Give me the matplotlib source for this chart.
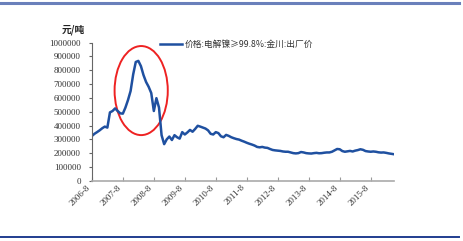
import matplotlib
matplotlib.use("Agg")
import matplotlib.pyplot as plt
from matplotlib.patches import Ellipse
from matplotlib.lines import Line2D

# monthly price, 2006-8 .. 2016-5 (元/吨)
prices = [
    324000, 340000, 352000, 365000, 380000, 392000, 385000, 495000, 505000, 524000,
    505000, 488000, 486000, 530000, 585000, 650000, 770000, 860000, 868000, 830000,
    765000, 715000, 680000, 635000, 505000, 598000, 530000, 330000, 265000, 300000,
    320000, 295000, 330000, 315000, 305000, 352000, 335000, 350000, 368000, 355000,
    375000, 398000, 392000, 385000, 378000, 365000, 340000, 335000, 352000, 345000,
    322000, 315000, 332000, 325000, 315000, 308000, 302000, 298000, 290000, 283000,
    275000, 268000, 262000, 255000, 245000, 242000, 245000, 240000, 238000, 230000,
    223000, 220000, 218000, 216000, 212000, 210000, 210000, 205000, 200000, 198000,
    200000, 208000, 205000, 200000, 198000, 197000, 200000, 202000, 199000, 200000,
    203000, 205000, 205000, 210000, 220000, 230000, 228000, 215000, 210000, 213000,
    216000, 212000, 218000, 222000, 228000, 224000, 215000, 212000, 210000, 212000,
    210000, 206000, 204000, 205000, 202000, 198000, 195000, 192000,
]
months = list(range(len(prices)))
tick_labels = ["2006-8", "2007-8", "2008-8", "2009-8", "2010-8",
               "2011-8", "2012-8", "2013-8", "2014-8", "2015-8"]
y_ticks = list(range(0, 1000001, 100000))
series_name = "价格:电解镍≥99.8%:金川:出厂价"

cjk = ["Noto Sans CJK SC", "DejaVu Sans"]
serif = "Liberation Serif"

fig = plt.figure(figsize=(4.64, 2.41), dpi=100)
ax = fig.add_axes([0.198, 0.250, 0.651, 0.573])

ax.plot(months, prices, color="#1f50a0", lw=1.8, label=series_name)

ax.set_xlim(0, len(prices) - 1)
ax.set_ylim(0, 1000000)
ax.set_xticks([12 * i for i in range(len(tick_labels))])
ax.set_xticklabels(tick_labels, rotation=45, ha="right", va="top",
                   family=serif, fontsize=6.5, color="#333333")
ax.set_yticks(y_ticks)
ax.set_yticklabels([str(v) for v in y_ticks], family=serif, fontsize=6.5,
                   color="#333333")
ax.tick_params(axis="x", direction="in", length=3, color="#999999", pad=2)
ax.tick_params(axis="y", direction="out", length=2, color="#666666", pad=6)

for s in ["top", "right"]:
    ax.spines[s].set_visible(False)
ax.spines["left"].set_color("#666666")
ax.spines["bottom"].set_color("#aaaaaa")
ax.spines["bottom"].set_linewidth(1.2)

ax.text(-0.06, 1.09, "元/吨", transform=ax.transAxes, ha="center", va="center",
        family=cjk, fontsize=7, fontweight="bold", color="#222222")

leg = ax.legend(loc="upper left", bbox_to_anchor=(0.214, 1.045), frameon=False,
                handlelength=2.5, handletextpad=0.3, borderaxespad=0,
                prop={"family": cjk, "size": 6.3, "style": "italic"})
for t in leg.get_texts():
    t.set_color("#333333")

# red circle highlighting the 2007 peak
ax.add_patch(Ellipse((19.1, 653000), 20.6, 645000, fill=False,
                     edgecolor="#ee2222", lw=1.4))

# frame lines at top and bottom of the picture
fig.add_artist(Line2D([0.0, 0.99], [0.988, 0.988], color="#6a80bb", lw=2.2))
fig.add_artist(Line2D([0.0, 0.99], [0.017, 0.017], color="#203d8f", lw=1.4))

fig.savefig("out.png", dpi=100)
